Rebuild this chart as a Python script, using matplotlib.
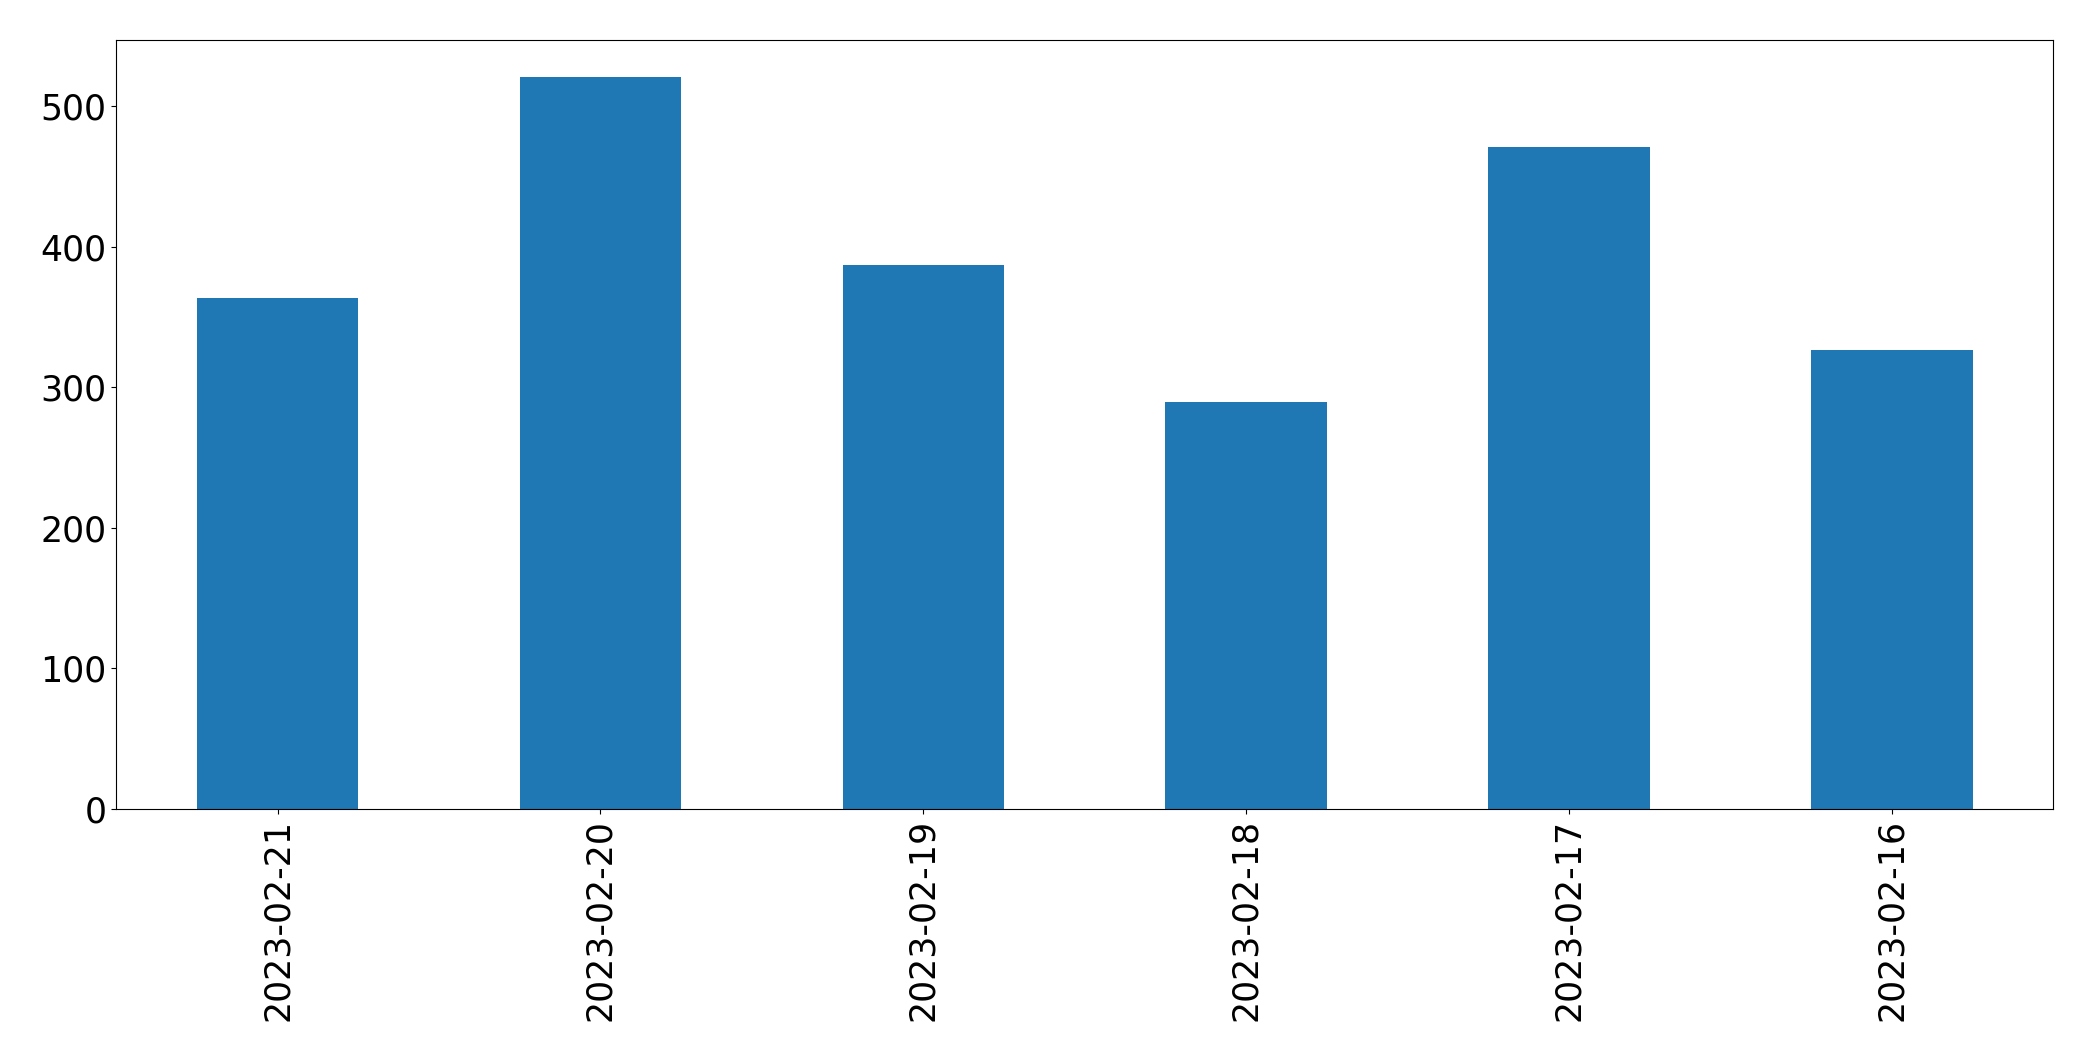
import matplotlib
matplotlib.use("Agg")
import matplotlib.pyplot as plt

dates = ["2023-02-21", "2023-02-20", "2023-02-19", "2023-02-18", "2023-02-17", "2023-02-16"]
values = [364, 521, 387, 290, 471, 327]

fig = plt.figure(figsize=(20.93, 10.61), dpi=100)
ax = fig.add_axes([0.0555, 0.2375, 0.9255, 0.7245])
x = list(range(len(dates)))
ax.bar(x, values, width=0.5, color="#1f77b4")
ax.set_xlim(-0.5, len(dates) - 0.5)
ax.set_xticks(x)
ax.set_xticklabels(dates, rotation=90)
ax.tick_params(axis="both", labelsize=25)
for s in ax.spines.values():
    s.set_color("black")
fig.savefig("out.png", dpi=100)
